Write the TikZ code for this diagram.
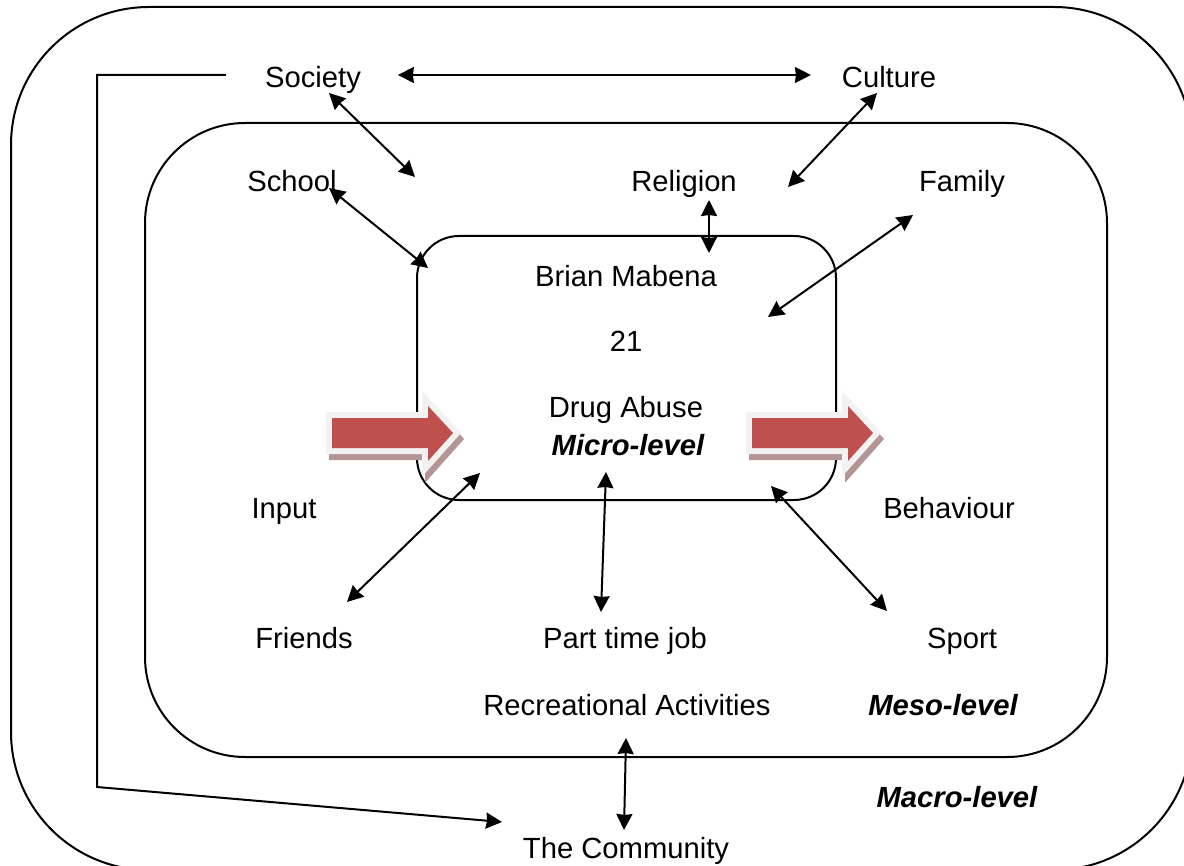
\documentclass[tikz,border=0pt]{standalone}
\usepackage{fontspec}
\setmainfont{Liberation Sans}
\usetikzlibrary{arrows.meta}
\definecolor{blockred}{HTML}{C0504D}
\definecolor{blockrim}{HTML}{F2F2F2}
\definecolor{blockshade}{HTML}{B39595}
\newcommand\blockpath{(332,418) -- (428,418) -- (428,406) -- (453,433) -- (428,461) -- (428,448) -- (332,448) -- cycle}
\tikzset{both/.style={{Stealth[length=8pt,width=8pt,inset=0.5pt]}-{Stealth[length=8pt,width=8pt,inset=0.5pt]}},
    tip/.style={-{Stealth[length=8pt,width=8pt,inset=0.5pt]}},
    lvl/.style={font=\fontsize{14.6}{17}\selectfont\bfseries\itshape}}
\begin{document}
\begin{tikzpicture}[x=0.5pt,y=-0.5pt,line width=1pt,font=\fontsize{14.6}{17}\selectfont,every node/.style={inner sep=0pt,text height=10.4pt,text depth=0pt}]
            \useasboundingbox (0,0) rectangle (1184,866);
            % the three levels
            \draw[rounded corners=69pt] (11,7) rectangle (1192,870);
            \draw[rounded corners=50pt] (145,123) rectangle (1107,757);
            \draw[rounded corners=21pt] (417,236) rectangle (836,500);
            % input and behaviour arrows
            \foreach \dx in {0,420}{
                \begin{scope}[shift={(\dx+3,6)}]\filldraw[blockshade,line width=6pt] \blockpath;\end{scope}
                \begin{scope}[shift={(\dx,0)}]\filldraw[blockrim,line width=6pt] \blockpath; \fill[blockred] \blockpath;\end{scope}
            }
            \foreach \x/\y/\n/\gt in {313/77/soc/Society, 889/77/cul/Culture, 292/181/sch/School, 684/181/rel/Religion, 962/181/fam/Family, 626/276/bri/Brian Mabena, 626/341/age/21, 626/407/drg/Drug Abuse, 284/508/inp/Input, 949/508/beh/Behaviour, 304/638/fri/Friends, 625/638/job/Part time job, 962/638/spo/Sport, 627/705/rec/Recreational Activities, 626/848/com/The Community}\path (\x,\y) node(\n){\gt};
            \foreach \x/\y/\n/\gt in {628/445/mic/Micro-level, 943/705/mes/Meso-level, 957/797/mac/Macro-level}\path (\x,\y) node[lvl](\n){\gt};
            \foreach \x/\y/\n in {329/93/s1, 415/177/s2, 877/93/c1, 788/187/c2, 329/188/k1, 428/268/k2, 709/200/r1, 709/253/r2, 913/215/f1, 768/317/f2, 347/602/d1, 480/473/d2, 606/472/j1, 601/612/j2, 771/486/p1, 887/611/p2, 626/738/e1, 624/830/e2, 97/787/bend, 502/822/q}\coordinate (\n) at (\x,\y);
            \draw[both,shorten <=18pt,shorten >=15pt] ([yshift=1pt]soc.east)--([yshift=1pt]cul.west);
            \foreach \a/\b in {s1/s2,c1/c2,k1/k2,r1/r2,f1/f2,d1/d2,j1/j2,p1/p2,e1/e2}\draw[both] (\a)--(\b);
            \draw[tip] ([xshift=-19pt,yshift=1pt]soc.west) -| (bend) -- (q);
        \end{tikzpicture}
\end{document}
